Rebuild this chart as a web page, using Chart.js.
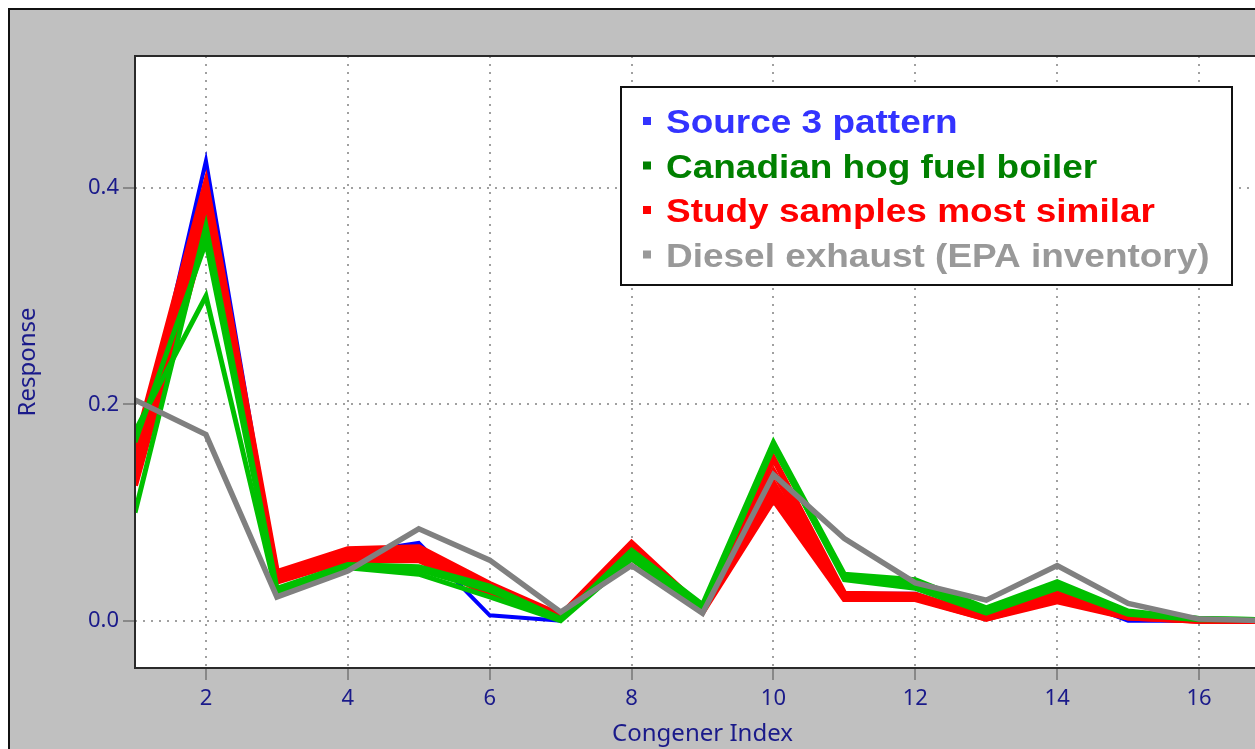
<!DOCTYPE html>
<html><head><meta charset="utf-8">
<script src="https://cdn.jsdelivr.net/npm/chart.js@4.4.0/dist/chart.umd.min.js"></script>
<style>
html,body{margin:0;padding:0;background:#fff;overflow:hidden}
#wrap{position:relative;width:1255px;height:749px;overflow:hidden}
canvas{display:block}
</style></head><body>
<div id="wrap"><canvas id="c" width="1290" height="749" style="width:1290px;height:749px"></canvas></div>
<script>
// ---- data ----
const congeners = [1,2,3,4,5,6,7,8,9,10,11,12,13,14,15,16,17];
const xTicks = [2,4,6,8,10,12,14,16];
const yTicks = [0.0,0.2,0.4];

const source3 = [0.140,0.425,0.040,0.062,0.072,0.005,0.000,0.070,0.010,0.150,0.025,0.025,0.003,0.025,0.000,0.000,0.000];

const hogFuel1 = [0.100,0.365,0.030,0.052,0.050,0.032,0.002,0.065,0.015,0.165,0.043,0.038,0.012,0.036,0.009,0.002,0.001];
const hogFuel2 = [0.165,0.350,0.028,0.050,0.047,0.028,0.001,0.061,0.012,0.160,0.040,0.034,0.009,0.032,0.007,0.002,0.001];
const hogFuel3 = [0.175,0.300,0.024,0.049,0.043,0.022,0.000,0.057,0.010,0.162,0.038,0.030,0.007,0.030,0.006,0.001,0.001];

const study1 = [0.160,0.405,0.045,0.066,0.068,0.034,0.005,0.072,0.011,0.150,0.025,0.024,0.004,0.027,0.006,0.001,0.000];
const study2 = [0.150,0.395,0.042,0.063,0.065,0.031,0.004,0.068,0.010,0.138,0.024,0.023,0.003,0.025,0.005,0.001,0.000];
const study3 = [0.140,0.385,0.040,0.060,0.062,0.028,0.003,0.064,0.009,0.127,0.022,0.022,0.003,0.022,0.004,0.000,0.000];
const study4 = [0.130,0.375,0.038,0.058,0.058,0.026,0.002,0.060,0.009,0.118,0.021,0.021,0.002,0.020,0.003,0.000,0.000];
const study5 = [0.125,0.360,0.036,0.056,0.056,0.024,0.002,0.058,0.008,0.112,0.020,0.020,0.002,0.018,0.003,0.000,0.000];

const diesel = [0.204,0.172,0.022,0.046,0.085,0.056,0.008,0.051,0.007,0.135,0.076,0.035,0.019,0.051,0.016,0.0015,0.000];

const legendLabels = ['Source 3 pattern','Canadian hog fuel boiler','Study samples most similar','Diesel exhaust (EPA inventory)'];
const legendColors = ['#3333ff','#008000','#ff0000','#999999'];

// ---- build ----
const toXY = arr => arr.map((v,i)=>({x:congeners[i], y:v}));
const mk = (label, arr, color, width, order) => ({
  label, data: toXY(arr), borderColor: color, backgroundColor: color,
  borderWidth: width, pointRadius: 0, tension: 0, fill: false, order,
  borderJoinStyle: 'miter'
});
const datasets = [
  mk('Source 3 pattern', source3, '#0000ff', 4, 4),
  ...[study1,study2,study3,study4,study5].map(a=>mk('Study samples most similar', a, '#ff0000', 6, 3)),
  ...[hogFuel1,hogFuel2,hogFuel3].map(a=>mk('Canadian hog fuel boiler', a, '#00c000', 5, 2)),
  mk('Diesel exhaust (EPA inventory)', diesel, '#808080', 5.5, 1)
];

const navy = '#1a1a8a';
const bgPlugin = {
  id:'bg',
  beforeDraw(chart){
    const ctx = chart.ctx, a = chart.chartArea;
    ctx.save();
    ctx.fillStyle = '#ffffff';
    ctx.fillRect(0,0,chart.width,chart.height);
    ctx.fillStyle = '#c0c0c0';
    ctx.fillRect(9,9,chart.width,chart.height);
    ctx.strokeStyle = '#111';
    ctx.lineWidth = 2;
    ctx.beginPath();
    ctx.moveTo(9,chart.height); ctx.lineTo(9,9); ctx.lineTo(chart.width,9);
    ctx.stroke();
    ctx.fillStyle = '#ffffff';
    ctx.fillRect(a.left,a.top,a.right-a.left,a.bottom-a.top);
    ctx.restore();
  },
  afterDraw(chart){
    const ctx = chart.ctx, a = chart.chartArea;
    ctx.save();
    // plot frame
    ctx.strokeStyle = '#2a2a2a';
    ctx.lineWidth = 2;
    ctx.beginPath();
    ctx.moveTo(a.right+5, a.top); ctx.lineTo(a.left, a.top); ctx.lineTo(a.left, a.bottom); ctx.lineTo(a.right+5, a.bottom);
    ctx.stroke();
    // legend box
    ctx.fillStyle = '#ffffff';
    ctx.fillRect(620,86,613,200);
    ctx.strokeStyle = '#111';
    ctx.lineWidth = 2;
    ctx.strokeRect(621,87,611,198);
    legendLabels.forEach((t,i)=>{
      const base = 133 + i*44.5;
      ctx.fillStyle = legendColors[i];
      ctx.fillRect(643, base-16, 8, 8);
      ctx.save();
      ctx.translate(666, base);
      ctx.scale(1.12, 1);
      ctx.font = 'bold 33px "Liberation Sans", Arial, sans-serif';
      ctx.textBaseline = 'alphabetic';
      ctx.textAlign = 'left';
      ctx.fillText(t, 0, 0);
      ctx.restore();
    });
    ctx.restore();
  }
};

new Chart(document.getElementById('c'), {
  type:'line',
  data:{ datasets },
  options:{
    responsive:false, animation:false, devicePixelRatio:1,
    layout:{ padding:{left:0, top:56, right:20, bottom:0} },
    plugins:{ legend:{display:false}, tooltip:{enabled:false} },
    scales:{
      x:{
        type:'linear', min:1, max:17,
        afterBuildTicks: s => { s.ticks = xTicks.map(v=>({value:v})); },
        afterFit: s => { s.height = 81; },
        ticks:{ color:navy, font:{family:'"Noto Sans"', size:22}, padding:6, maxRotation:0, autoSkip:false, callback:v=>String(v) },
        grid:{ color:'#a0a0a0', lineWidth:2, tickColor:'#888', tickWidth:2, tickLength:12, tickBorderDash:[] },
        border:{ display:false, dash:[2,6] },
        title:{ display:true, text:'Congener Index', color:navy, font:{family:'"Noto Sans"', size:24}, padding:{top:0,bottom:0} }
      },
      y:{
        type:'linear', min:-0.0437, max:0.522,
        afterBuildTicks: s => { s.ticks = yTicks.map(v=>({value:v})); },
        afterFit: s => { s.width = 135; },
        ticks:{ color:navy, font:{family:'"Noto Sans"', size:22}, padding:4, callback:v=>Number(v).toFixed(1) },
        grid:{ color:'#a0a0a0', lineWidth:2, tickColor:'#888', tickWidth:2, tickLength:12, tickBorderDash:[] },
        border:{ display:false, dash:[2,6] },
        title:{ display:true, text:'Response', color:navy, font:{family:'"Noto Sans"', size:24}, padding:{top:14,bottom:0} }
      }
    }
  },
  plugins:[bgPlugin]
});
</script>
</body></html>
